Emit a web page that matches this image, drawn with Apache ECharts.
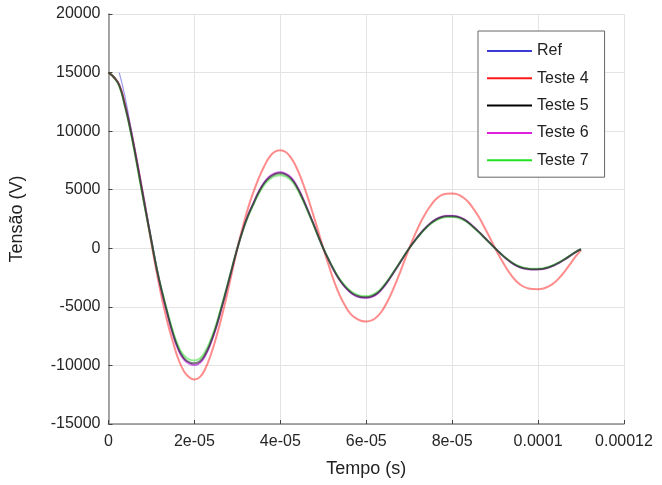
<!DOCTYPE html>
<html>
<head>
<meta charset="utf-8">
<script src="https://cdn.jsdelivr.net/npm/echarts@6/dist/echarts.min.js"></script>
<style>html,body{margin:0;padding:0;background:#fff}#c{width:662px;height:485px}</style>
</head>
<body>
<div id="c"></div>
<script>
// time samples in microseconds
var tempoUs = [0, 1.25, 2.5, 3.75, 5, 6.25, 7.5, 8.75, 10, 11.25, 12.5, 13.75, 15, 16.25, 17.5, 18.75,
  20, 21.25, 22.5, 23.75, 25, 26.25, 27.5, 28.75, 30, 31.25, 32.5, 33.75, 35, 36.25, 37.5, 38.75,
  40, 41.25, 42.5, 43.75, 45, 46.25, 47.5, 48.75, 50, 51.25, 52.5, 53.75, 55, 56.25, 57.5, 58.75,
  60, 61.25, 62.5, 63.75, 65, 66.25, 67.5, 68.75, 70, 71.25, 72.5, 73.75, 75, 76.25, 77.5, 78.75,
  80, 81.25, 82.5, 83.75, 85, 86.25, 87.5, 88.75, 90, 91.25, 92.5, 93.75, 95, 96.25, 97.5, 98.75,
  100, 101.25, 102.5, 103.75, 105, 106.25, 107.5, 108.75, 110];

// Tensão (V) per series; Ref starts at 2.5 us
var ref = [null, null, 15000, 13100, 10700, 8300, 5800, 3300, 800, -1600, -3750, -5600, -7300, -8650, -9450, -9800,
  -9970, -9790, -9190, -8170, -6850, -5230, -3500, -1730, 0, 1540, 2840, 3880, 4870, 5630, 6140, 6410,
  6500, 6370, 6040, 5380, 4470, 3400, 2280, 1120, 0, -990, -1910, -2690, -3300, -3760, -4060, -4210,
  -4240, -4160, -3910, -3450, -2840, -2150, -1440, -710, 0, 630, 1220, 1730, 2160, 2490, 2690, 2770,
  2780, 2720, 2540, 2230, 1830, 1400, 930, 470, 0, -450, -860, -1220, -1500, -1680, -1780, -1820,
  -1810, -1770, -1640, -1460, -1220, -940, -640, -320, -80];
var teste4 = [15000, 14620, 13950, 12450, 10450, 8150, 5700, 3150, 400, -2100, -4400, -6350, -8000, -9450, -10450, -11000,
  -11200, -11000, -10300, -9150, -7700, -6000, -4100, -2050, 0, 1800, 3450, 4820, 6000, 7000, 7800, 8250,
  8370, 8220, 7720, 6900, 5800, 4500, 3050, 1550, 0, -1450, -2800, -3950, -4850, -5550, -5950, -6180,
  -6250, -6160, -5850, -5300, -4500, -3500, -2400, -1200, 0, 1100, 2100, 2950, 3650, 4200, 4530, 4650,
  4670, 4600, 4350, 3950, 3350, 2650, 1800, 920, 0, -850, -1620, -2300, -2830, -3200, -3400, -3480,
  -3490, -3430, -3250, -2950, -2500, -1950, -1330, -700, -150];
var teste5 = [15000, 14600, 13900, 12300, 10300, 8000, 5500, 3000, 600, -1800, -3800, -5600, -7250, -8550, -9350, -9720,
  -9820, -9650, -9050, -8050, -6750, -5150, -3450, -1700, 0, 1520, 2800, 3820, 4800, 5550, 6050, 6320,
  6400, 6280, 5950, 5300, 4400, 3350, 2250, 1100, 0, -980, -1880, -2650, -3250, -3700, -4000, -4150,
  -4180, -4100, -3850, -3400, -2800, -2120, -1420, -700, 0, 620, 1200, 1700, 2130, 2450, 2650, 2730,
  2740, 2680, 2500, 2200, 1800, 1380, 920, 460, 0, -440, -850, -1200, -1480, -1660, -1750, -1790,
  -1780, -1740, -1620, -1440, -1200, -930, -630, -320, -80];
var teste6 = [15000, 14600, 13950, 12370, 10400, 8100, 5580, 3040, 610, -1830, -3860, -5680, -7360, -8680, -9490, -9870,
  -9970, -9790, -9190, -8170, -6850, -5230, -3500, -1730, 0, 1540, 2840, 3880, 4870, 5630, 6140, 6410,
  6500, 6370, 6040, 5380, 4470, 3400, 2280, 1120, 0, -990, -1910, -2690, -3300, -3760, -4060, -4210,
  -4240, -4160, -3910, -3450, -2840, -2150, -1440, -710, 0, 630, 1220, 1730, 2160, 2490, 2690, 2770,
  2780, 2720, 2540, 2230, 1830, 1400, 930, 470, 0, -450, -860, -1220, -1500, -1680, -1780, -1820,
  -1810, -1770, -1640, -1460, -1220, -940, -640, -320, -80];
var teste7 = [15000, 14600, 13850, 12200, 10200, 7850, 5360, 2920, 580, -1760, -3710, -5460, -7070, -8340, -9120, -9480,
  -9570, -9410, -8820, -7850, -6580, -5020, -3360, -1660, 0, 1480, 2730, 3730, 4680, 5410, 5900, 6160,
  6240, 6120, 5800, 5170, 4290, 3270, 2190, 1070, 0, -960, -1830, -2580, -3170, -3610, -3900, -4050,
  -4080, -4000, -3750, -3320, -2730, -2070, -1380, -680, 0, 600, 1170, 1660, 2080, 2390, 2580, 2660,
  2670, 2610, 2440, 2150, 1760, 1350, 900, 450, 0, -430, -830, -1170, -1440, -1620, -1710, -1750,
  -1740, -1700, -1580, -1400, -1170, -910, -610, -310, -80];

var seriesNames = ['Ref', 'Teste 4', 'Teste 5', 'Teste 6', 'Teste 7'];
var xTickLabels = ['0', '2e-05', '4e-05', '6e-05', '8e-05', '0.0001', '0.00012'];
var yTickLabels = ['-15000', '-10000', '-5000', '0', '5000', '10000', '15000', '20000'];

function pairs(vals) {
  var out = [];
  for (var i = 0; i < tempoUs.length; i++) {
    if (vals[i] !== null) out.push([tempoUs[i] * 1e-6, vals[i]]);
  }
  return out;
}

var FONT = 'Liberation Sans, Arial, sans-serif';
var colors = { 'Ref': '#3a3ad6', 'Teste 4': '#ff1a1a', 'Teste 5': '#000000', 'Teste 6': '#e020e0', 'Teste 7': '#22e022' };
var widths = { 'Ref': 1.2, 'Teste 4': 2, 'Teste 5': 2, 'Teste 6': 2, 'Teste 7': 2 };
var dataByName = { 'Ref': ref, 'Teste 4': teste4, 'Teste 5': teste5, 'Teste 6': teste6, 'Teste 7': teste7 };
var drawOrder = ['Teste 4', 'Ref', 'Teste 6', 'Teste 7', 'Teste 5'];

var series = drawOrder.map(function (n) {
  return {
    name: n,
    type: 'line',
    data: pairs(dataByName[n]),
    smooth: 0.5,
    symbol: 'none',
    showSymbol: false,
    color: colors[n],
    lineStyle: { color: colors[n], width: widths[n], opacity: 0.5 },
    animation: false
  };
});

var chart = echarts.init(document.getElementById('c'), null, { renderer: 'canvas' });
chart.setOption({
  backgroundColor: '#ffffff',
  animation: false,
  textStyle: { fontFamily: FONT },
  grid: { left: 108.5, right: 38, top: 14, bottom: 61, containLabel: false, outerBoundsMode: 'none' },
  legend: {
    orient: 'vertical',
    left: 478,
    top: 31,
    data: seriesNames.map(function (n) {
      return { name: n, icon: 'rect', itemStyle: { color: colors[n], opacity: 1 } };
    }),
    padding: [12, 16, 9, 9],
    itemWidth: 45,
    itemHeight: 2,
    itemGap: 11.3,
    itemTextGap: 11,
    backgroundColor: '#ffffff',
    borderColor: '#666666',
    borderWidth: 1,
    textStyle: { fontFamily: FONT, fontSize: 16, lineHeight: 16, color: '#222222' }
  },
  xAxis: {
    type: 'value',
    min: 0,
    max: 0.00012,
    interval: 0.00002,
    name: 'Tempo (s)',
    nameLocation: 'middle',
    nameGap: 36,
    nameTextStyle: { fontFamily: FONT, fontSize: 18, color: '#222222' },
    axisLine: { show: true, onZero: false, lineStyle: { color: '#8a8a8a', width: 1.5 } },
    axisTick: { show: true, inside: true, length: 4, lineStyle: { color: '#444444' } },
    axisLabel: {
      margin: 10, fontFamily: FONT, fontSize: 16, color: '#262626',
      formatter: function (v) { return xTickLabels[Math.round(v / 0.00002)]; }
    },
    splitLine: { show: true, lineStyle: { color: '#e3e3e3', width: 1 } }
  },
  yAxis: {
    type: 'value',
    min: -15000,
    max: 20000,
    interval: 5000,
    name: 'Tensão (V)',
    nameLocation: 'middle',
    nameGap: 82,
    nameTextStyle: { fontFamily: FONT, fontSize: 18, color: '#222222' },
    axisLine: { show: true, onZero: false, lineStyle: { color: '#8a8a8a', width: 1.5 } },
    axisTick: { show: true, inside: true, length: 4, lineStyle: { color: '#444444' } },
    axisLabel: {
      margin: 8, fontFamily: FONT, fontSize: 16, color: '#262626',
      formatter: function (v) { return yTickLabels[Math.round((v + 15000) / 5000)]; }
    },
    splitLine: { show: true, lineStyle: { color: '#e3e3e3', width: 1 } }
  },
  series: series
});
</script>
</body>
</html>
